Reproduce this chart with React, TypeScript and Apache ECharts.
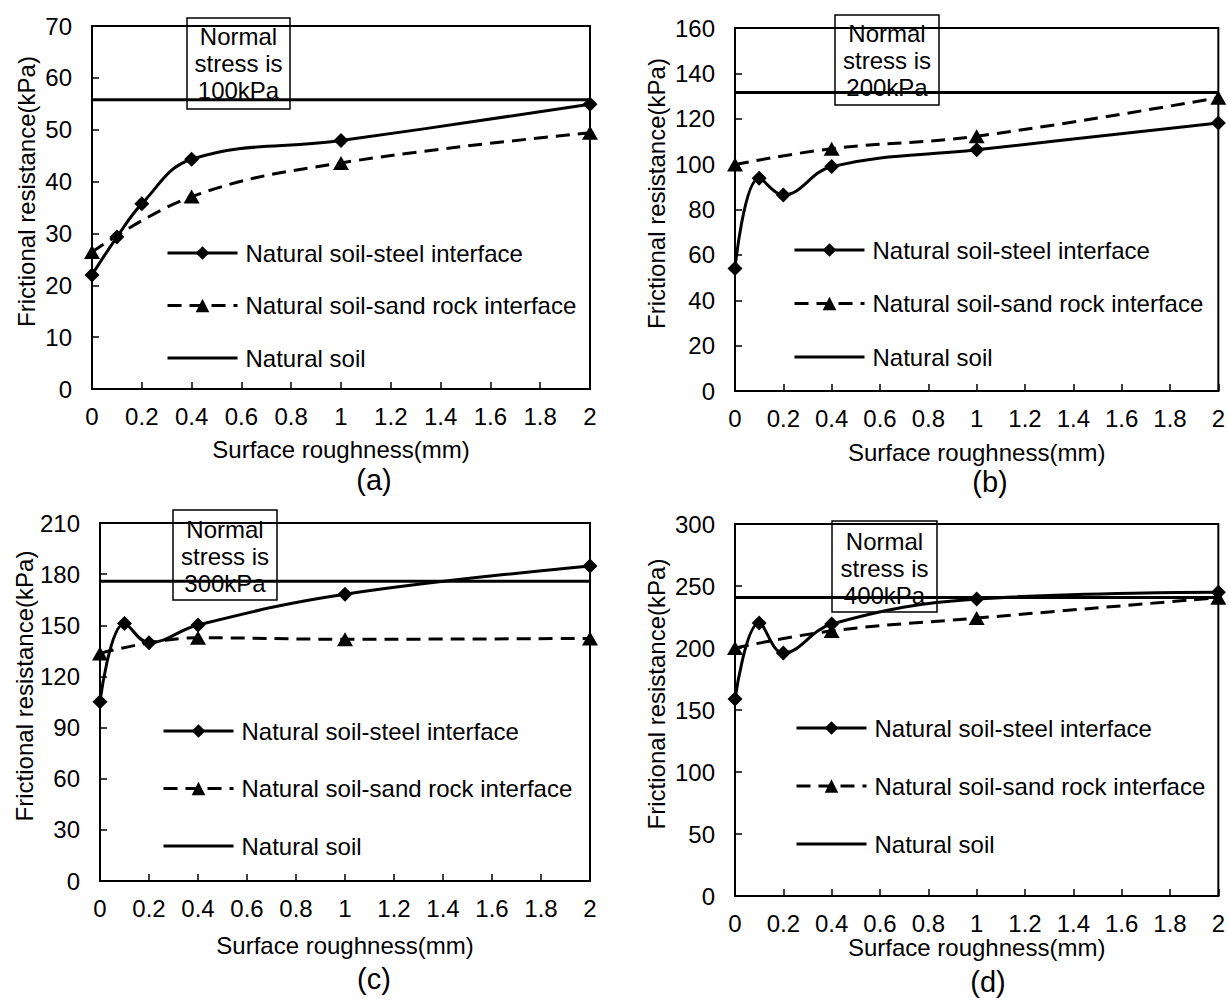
import React, { useEffect, useRef } from "react";
import * as echarts from "echarts";

// ---- data ----
const roughSteel = [0, 0.1, 0.2, 0.4, 1, 2];
const roughSand = [0, 0.4, 1, 2];

const steelA = [22.0, 29.3, 35.7, 44.3, 47.9, 54.9];
const sandA = [26.4, 37.1, 43.6, 49.4];
const soilA = 55.8;

const steelB = [54.0, 93.8, 86.4, 98.9, 106.3, 118.1];
const sandB = [99.8, 106.8, 112.3, 129.3];
const soilB = 131.6;

const steelC = [105.2, 151.1, 139.8, 150.2, 168.2, 184.8];
const sandC = [133.5, 142.7, 141.8, 142.3];
const soilC = 175.8;

const steelD = [158.8, 220.1, 195.9, 219.3, 239.5, 244.9];
const sandD = [200.0, 213.8, 224.1, 240.6];
const soilD = 240.8;

const yMax = [70, 160, 210, 300];
const yStep = [10, 20, 30, 50];
const stressLabels = ["100kPa", "200kPa", "300kPa", "400kPa"];
const panelLabels = ["(a)", "(b)", "(c)", "(d)"];
const nameSteel = "Natural soil-steel interface";
const nameSand = "Natural soil-sand rock interface";
const nameSoil = "Natural soil";
const xName = "Surface roughness(mm)";
const yName = "Frictional resistance(kPa)";

// ---- layout ----
const FONT = "'Liberation Sans', Arial, sans-serif";
const FS = 24;
const grids = [
  { left: 92, top: 26, width: 498, height: 363 },
  { left: 735, top: 28, width: 487, height: 363 },
  { left: 100, top: 523, width: 490, height: 358 },
  { left: 735, top: 524, width: 487, height: 372 },
];
const xNameGap = [48, 49, 52, 38];
const yNameGap = [54, 67, 63, 67];
const legendPos = [
  { left: 166, top: 241, gap: 28.5 },
  { left: 793, top: 238, gap: 29.5 },
  { left: 162, top: 719, gap: 33.5 },
  { left: 795, top: 716, gap: 34 },
];
const boxes = [
  { x: 187, y: 18, w: 103, h: 91, ty: 23 },
  { x: 835, y: 15, w: 104, h: 90, ty: 19.5 },
  { x: 173, y: 510, w: 104, h: 90, ty: 515.5 },
  { x: 832, y: 521, w: 105, h: 91, ty: 527.5 },
];
const labelPos = [
  { x: 374, y: 480 },
  { x: 990, y: 482 },
  { x: 374, y: 979 },
  { x: 988, y: 982 },
];

function buildOption() {
  const steels = [steelA, steelB, steelC, steelD];
  const sands = [sandA, sandB, sandC, sandD];
  const soils = [soilA, soilB, soilC, soilD];

  const xAxis: any[] = [];
  const yAxis: any[] = [];
  const series: any[] = [];
  const legend: any[] = [];
  const graphic: any[] = [];

  for (let i = 0; i < 4; i++) {
    xAxis.push({
      type: "value",
      gridIndex: i,
      min: 0,
      max: 2,
      interval: 0.2,
      name: xName,
      nameLocation: "middle",
      nameGap: xNameGap[i],
      nameTextStyle: { color: "#000", fontSize: FS, fontFamily: FONT },
      axisLine: { show: true, lineStyle: { color: "#000", width: 2 } },
      axisTick: { show: true, inside: true, length: 7, lineStyle: { color: "#000", width: 1.5 } },
      axisLabel: { color: "#000", fontSize: FS, fontFamily: FONT, margin: 15 },
      splitLine: { show: false },
    });
    yAxis.push({
      type: "value",
      gridIndex: i,
      min: 0,
      max: yMax[i],
      interval: yStep[i],
      name: yName,
      nameLocation: "middle",
      nameGap: yNameGap[i],
      nameTextStyle: {
        color: "#000",
        fontSize: FS,
        fontFamily: FONT,
        padding: [0, 0, 0, 32],
      },
      axisLine: { show: true, lineStyle: { color: "#000", width: 2 } },
      axisTick: { show: true, inside: true, length: 7, lineStyle: { color: "#000", width: 1.5 } },
      axisLabel: { color: "#000", fontSize: FS, fontFamily: FONT, margin: 20 },
      splitLine: { show: false },
    });

    series.push({
      type: "line",
      name: nameSteel,
      xAxisIndex: i,
      yAxisIndex: i,
      data: roughSteel.map((x, k) => [x, steels[i][k]]),
      smooth: 0.4,
      symbol: "diamond",
      symbolSize: 15,
      lineStyle: { color: "#000", width: 3 },
      itemStyle: { color: "#000" },
      z: 4,
    });
    series.push({
      type: "line",
      name: nameSand,
      xAxisIndex: i,
      yAxisIndex: i,
      data: roughSand.map((x, k) => [x, sands[i][k]]),
      smooth: 0.4,
      symbol: "triangle",
      symbolSize: [16, 14],
      lineStyle: { color: "#000", width: 3, type: [14, 8] },
      itemStyle: { color: "#000" },
      z: 3,
    });
    series.push({
      type: "line",
      name: nameSoil,
      xAxisIndex: i,
      yAxisIndex: i,
      data: [
        [0, soils[i]],
        [2, soils[i]],
      ],
      symbol: "none",
      lineStyle: { color: "#000", width: 3 },
      itemStyle: { color: "#000" },
      z: 3,
    });

    legend.push({
      orient: "vertical",
      left: legendPos[i].left,
      top: legendPos[i].top,
      itemGap: legendPos[i].gap,
      itemWidth: 70,
      itemHeight: 17,
      padding: 0,
      selectedMode: false,
      lineStyle: { width: 3 },
      data: [nameSteel, nameSand, { name: nameSoil, itemStyle: { opacity: 0 } }],
      textStyle: {
        color: "#000",
        fontSize: FS,
        fontFamily: FONT,
        lineHeight: 24,
        padding: [0, 0, 0, 3],
      },
    });

    const b = boxes[i];
    graphic.push({
      type: "rect",
      shape: { x: b.x, y: b.y, width: b.w, height: b.h },
      style: { fill: "none", stroke: "#000", lineWidth: 1.5 },
      z: 1,
    });
    graphic.push({
      type: "text",
      x: b.x + b.w / 2,
      y: b.ty,
      style: {
        text: "Normal\nstress is\n" + stressLabels[i],
        fill: "#000",
        fontSize: FS,
        fontFamily: FONT,
        lineHeight: 27,
        align: "center",
        verticalAlign: "top",
      },
      z: 1,
    });
    graphic.push({
      type: "text",
      x: labelPos[i].x,
      y: labelPos[i].y,
      style: {
        text: panelLabels[i],
        fill: "#000",
        fontSize: 29,
        fontFamily: FONT,
        align: "center",
        verticalAlign: "middle",
      },
      z: 1,
    });
  }

  return {
    animation: false,
    backgroundColor: "#fff",
    grid: grids.map((g) => ({
      ...g,
      show: true,
      borderColor: "#000",
      borderWidth: 2,
      backgroundColor: "transparent",
      containLabel: false,
    })),
    xAxis,
    yAxis,
    legend,
    series,
    graphic,
  };
}

export default function App() {
  const ref = useRef<HTMLDivElement>(null);
  useEffect(() => {
    document.body.style.margin = "0";
    if (!ref.current) return;
    const chart = echarts.init(ref.current, null, { renderer: "svg" });
    chart.setOption(buildOption());
    return () => chart.dispose();
  }, []);
  return <div ref={ref} style={{ width: 1228, height: 998 }} />;
}
